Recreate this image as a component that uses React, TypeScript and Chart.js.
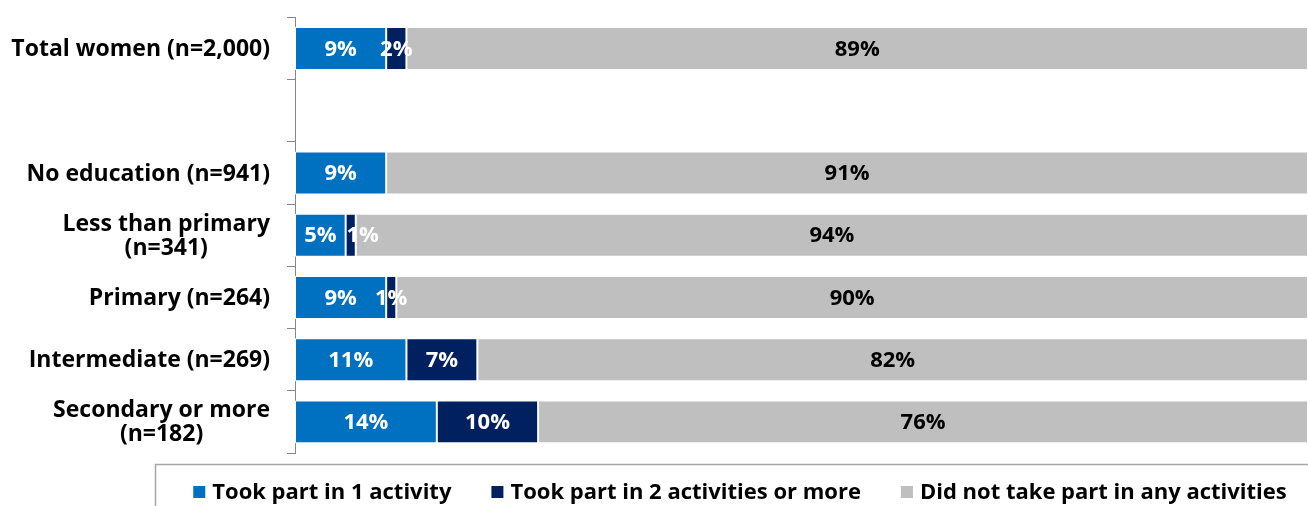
import React, { useEffect, useRef } from "react";
import { Chart, registerables } from "chart.js";

Chart.register(...registerables);

const categories: (string | string[])[] = [
  "Total women (n=2,000)",
  "",
  "No education (n=941)",
  ["Less than primary", "(n=341)"],
  "Primary (n=264)",
  "Intermediate (n=269)",
  ["Secondary or more", "(n=182)"],
];

const tookOne: (number | null)[] = [9, null, 9, 5, 9, 11, 14];
const tookTwoPlus: (number | null)[] = [2, null, 0, 1, 1, 7, 10];
const didNotTake: (number | null)[] = [89, null, 91, 94, 90, 82, 76];

const seriesLabels = [
  "Took part in 1 activity",
  "Took part in 2 activities or more",
  "Did not take part in any activities",
];
const seriesColors = ["#0070C0", "#002060", "#BFBFBF"];
const labelColors = ["#FFFFFF", "#FFFFFF", "#000000"];

const FONT_FAMILY = "'Open Sans', sans-serif";
const LABEL_FONT_SIZE = 23;
const VALUE_FONT_SIZE = 22;
const LEGEND_FONT_SIZE = 22;

const yLabelPlugin = {
  id: "yLabelPlugin",
  afterDraw(chart: any) {
    const ctx = chart.ctx;
    const yScale = chart.scales.y;
    ctx.save();
    ctx.font = `bold ${LABEL_FONT_SIZE}px ${FONT_FAMILY}`;
    ctx.fillStyle = "#000000";
    ctx.textBaseline = "middle";
    ctx.textAlign = "center";
    const rightEdge = 270;
    const lineHeight = 24;
    categories.forEach((lab, i) => {
      const lines = Array.isArray(lab) ? lab : [lab];
      if (!lines.join("")) return;
      const maxW = Math.max(...lines.map((l) => ctx.measureText(l).width));
      const cx = rightEdge - maxW / 2;
      const cy = yScale.getPixelForValue(i);
      lines.forEach((l, j) => {
        ctx.fillText(l, cx, cy + (j - (lines.length - 1) / 2) * lineHeight + 1);
      });
    });
    ctx.restore();
  },
};

const dataLabelPlugin = {
  id: "dataLabelPlugin",
  afterDatasetsDraw(chart: any) {
    const ctx = chart.ctx;
    ctx.save();
    ctx.font = `bold ${VALUE_FONT_SIZE}px ${FONT_FAMILY}`;
    ctx.textAlign = "center";
    ctx.textBaseline = "middle";
    const n = chart.data.labels.length;
    for (let i = 0; i < n; i++) {
      let prevRight = -Infinity;
      chart.data.datasets.forEach((ds: any, di: number) => {
        const el: any = chart.getDatasetMeta(di).data[i];
        const v = ds.data[i];
        if (!el || v === null || v === undefined || v <= 0) return;
        const text = `${v}%`;
        const w = ctx.measureText(text).width;
        let x = (el.x + el.base) / 2;
        if (x - w / 2 < prevRight + 4) x = prevRight + 10 + w / 2;
        ctx.fillStyle = labelColors[di];
        ctx.fillText(text, x, el.y + 1);
        prevRight = x + w / 2;
      });
    }
    ctx.restore();
  },
};

const legendPlugin = {
  id: "legendBoxPlugin",
  afterDraw(chart: any) {
    const ctx = chart.ctx;
    ctx.save();
    ctx.strokeStyle = "#A6A6A6";
    ctx.lineWidth = 1.5;
    ctx.strokeRect(155.5, 464.5, 1300, 100);
    ctx.font = `bold ${LEGEND_FONT_SIZE}px ${FONT_FAMILY}`;
    ctx.textBaseline = "middle";
    ctx.textAlign = "left";
    const box = 12;
    const boxGap = 7;
    const itemGap = 40;
    const widths = seriesLabels.map((l) => ctx.measureText(l).width);
    const total =
      widths.reduce((a, b) => a + b, 0) +
      seriesLabels.length * (box + boxGap) +
      (seriesLabels.length - 1) * itemGap;
    let x = 740 - total / 2;
    const cy = 492;
    seriesLabels.forEach((l, i) => {
      ctx.fillStyle = seriesColors[i];
      ctx.fillRect(x, cy - box / 2, box, box);
      x += box + boxGap;
      ctx.fillStyle = "#000000";
      ctx.fillText(l, x, cy + 1);
      x += widths[i] + itemGap;
    });
    ctx.restore();
  },
};

export default function App() {
  const canvasRef = useRef<HTMLCanvasElement | null>(null);

  useEffect(() => {
    if (!canvasRef.current) return;
    const datasets = [tookOne, tookTwoPlus, didNotTake].map((d, i) => ({
      label: seriesLabels[i],
      data: d,
      backgroundColor: seriesColors[i],
      borderColor: "#FFFFFF",
      borderWidth: 1,
      borderSkipped: false as any,
      categoryPercentage: 1,
      barPercentage: 0.69,
    }));
    const chart = new Chart(canvasRef.current, {
      type: "bar",
      data: { labels: categories as any, datasets },
      options: {
        indexAxis: "y",
        responsive: false,
        animation: false,
        layout: { padding: { top: 15, bottom: 53, left: 0, right: 0 } },
        plugins: {
          legend: { display: false },
          tooltip: { enabled: false },
        },
        scales: {
          x: { display: false, stacked: true, min: 0, max: 100 },
          y: {
            stacked: true,
            grid: {
              offset: true,
              drawOnChartArea: false,
              drawTicks: true,
              tickLength: 8,
              color: "#868686",
            },
            border: { display: true, color: "#868686", width: 1 },
            ticks: { color: "transparent" },
            afterFit(scale: any) {
              scale.width = 295;
            },
          },
        },
      },
      plugins: [yLabelPlugin, dataLabelPlugin, legendPlugin],
    });
    return () => chart.destroy();
  }, []);

  return (
    <div style={{ position: "fixed", left: 0, top: 0, width: 1308, height: 506, background: "#FFFFFF" }}>
      <canvas ref={canvasRef} width={1308} height={506} />
    </div>
  );
}
